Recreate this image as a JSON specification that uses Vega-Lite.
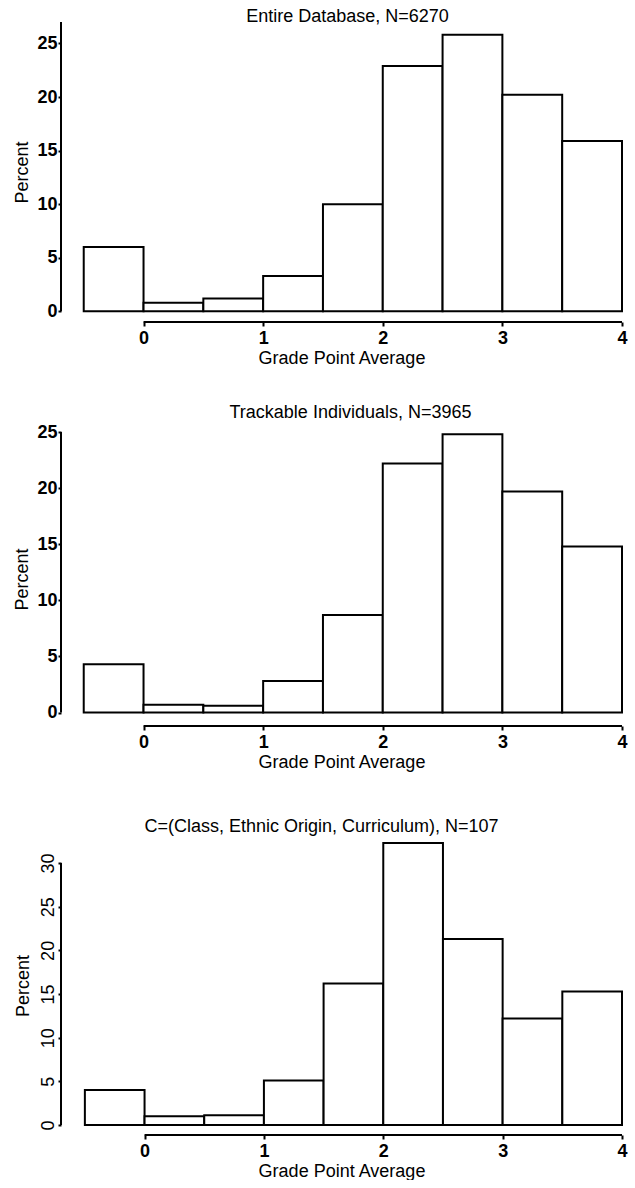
{
  "$schema": "https://vega.github.io/schema/vega-lite/v6.json",
  "autosize": {"type": "pad"},
  "padding": {"left": 13, "top": 8, "right": 0, "bottom": 0},
  "background": "white",
  "bounds": "flush",
  "spacing": 110,
  "config": {
    "view": {"stroke": null},
    "font": "Liberation Sans",
    "axis": {
      "domain": false, "grid": false, "ticks": true, "tickColor": "black", "tickWidth": 2, "tickSize": 4,
      "labelColor": "black", "labelFontSize": 18, "labelFont": "Liberation Sans", "format": "d",
      "titleFontSize": 18, "titleFontWeight": "normal", "titleColor": "black", "titleFont": "Liberation Sans",
      "labelOverlap": false
    },
    "title": {"fontSize": 18, "fontWeight": "normal", "color": "black", "frame": "group", "font": "Liberation Sans"}
  },
  "datasets": {
    "p1": [
      {"lo": -0.5, "hi": 0, "pct": 6.0}, {"lo": 0, "hi": 0.5, "pct": 0.8}, {"lo": 0.5, "hi": 1, "pct": 1.2},
      {"lo": 1, "hi": 1.5, "pct": 3.3}, {"lo": 1.5, "hi": 2, "pct": 10.0}, {"lo": 2, "hi": 2.5, "pct": 22.9},
      {"lo": 2.5, "hi": 3, "pct": 25.8}, {"lo": 3, "hi": 3.5, "pct": 20.2}, {"lo": 3.5, "hi": 4, "pct": 15.9}
    ],
    "p2": [
      {"lo": -0.5, "hi": 0, "pct": 4.3}, {"lo": 0, "hi": 0.5, "pct": 0.7}, {"lo": 0.5, "hi": 1, "pct": 0.6},
      {"lo": 1, "hi": 1.5, "pct": 2.8}, {"lo": 1.5, "hi": 2, "pct": 8.7}, {"lo": 2, "hi": 2.5, "pct": 22.2},
      {"lo": 2.5, "hi": 3, "pct": 24.8}, {"lo": 3, "hi": 3.5, "pct": 19.7}, {"lo": 3.5, "hi": 4, "pct": 14.8}
    ],
    "p3": [
      {"lo": -0.5, "hi": 0, "pct": 4.0}, {"lo": 0, "hi": 0.5, "pct": 1.0}, {"lo": 0.5, "hi": 1, "pct": 1.1},
      {"lo": 1, "hi": 1.5, "pct": 5.1}, {"lo": 1.5, "hi": 2, "pct": 16.2}, {"lo": 2, "hi": 2.5, "pct": 32.3},
      {"lo": 2.5, "hi": 3, "pct": 21.3}, {"lo": 3, "hi": 3.5, "pct": 12.2}, {"lo": 3.5, "hi": 4, "pct": 15.3}
    ],
    "one": [{}]
  },
  "vconcat": [
    {
      "width": 561, "height": 300,
      "title": {"text": "Entire Database, N=6270", "offset": -5, "dx": 6},
      "layer": [
        {
          "data": {"name": "p1"},
          "mark": {"type": "rect", "fill": "white", "stroke": "black", "strokeWidth": 2},
          "encoding": {
            "x": {"field": "lo", "type": "quantitative", "scale": {"domain": [-0.69, 4], "nice": false, "zero": false},
                  "axis": {"values": [0, 1, 2, 3, 4], "title": "Grade Point Average", "labelPadding": 3, "titlePadding": 2, "labelFlush": false, "labelFontWeight": "bold"}},
            "x2": {"field": "hi"},
            "y": {"field": "pct", "type": "quantitative", "scale": {"domain": [-1, 27], "nice": false, "zero": false},
                  "axis": {"values": [0, 5, 10, 15, 20, 25], "title": "Percent", "labelPadding": 1, "tickSize": 3, "titlePadding": 5, "labelFontWeight": "bold"}},
            "y2": {"datum": 0}
          }
        },
        {
          "data": {"name": "one"},
          "mark": {"type": "rule", "stroke": "black", "strokeWidth": 2},
          "encoding": {"x": {"datum": 0}, "x2": {"datum": 4}, "y": {"datum": -1}}
        },
        {
          "data": {"name": "one"},
          "mark": {"type": "rule", "stroke": "black", "strokeWidth": 2},
          "encoding": {"x": {"datum": -0.69}, "y": {"datum": 0}, "y2": {"datum": 27}}
        }
      ]
    },
    {
      "width": 561, "height": 294,
      "title": {"text": "Trackable Individuals, N=3965", "offset": 1, "dx": 9},
      "layer": [
        {
          "data": {"name": "p2"},
          "mark": {"type": "rect", "fill": "white", "stroke": "black", "strokeWidth": 2},
          "encoding": {
            "x": {"field": "lo", "type": "quantitative", "scale": {"domain": [-0.69, 4], "nice": false, "zero": false},
                  "axis": {"values": [0, 1, 2, 3, 4], "title": "Grade Point Average", "labelPadding": 3, "titlePadding": 2, "labelFlush": false, "labelFontWeight": "bold"}},
            "x2": {"field": "hi"},
            "y": {"field": "pct", "type": "quantitative", "scale": {"domain": [-1.2, 25], "nice": false, "zero": false},
                  "axis": {"values": [0, 5, 10, 15, 20, 25], "title": "Percent", "labelPadding": 1, "tickSize": 3, "titlePadding": 5, "labelFontWeight": "bold"}},
            "y2": {"datum": 0}
          }
        },
        {
          "data": {"name": "one"},
          "mark": {"type": "rule", "stroke": "black", "strokeWidth": 2},
          "encoding": {"x": {"datum": 0}, "x2": {"datum": 4}, "y": {"datum": -1.2}}
        },
        {
          "data": {"name": "one"},
          "mark": {"type": "rule", "stroke": "black", "strokeWidth": 2},
          "encoding": {"x": {"datum": -0.69}, "y": {"datum": 0}, "y2": {"datum": 25}}
        }
      ]
    },
    {
      "width": 561, "height": 299,
      "title": {"text": "C=(Class, Ethnic Origin, Curriculum), N=107", "offset": 0, "dx": -20},
      "layer": [
        {
          "data": {"name": "p3"},
          "mark": {"type": "rect", "fill": "white", "stroke": "black", "strokeWidth": 2},
          "encoding": {
            "x": {"field": "lo", "type": "quantitative", "scale": {"domain": [-0.7, 4], "nice": false, "zero": false},
                  "axis": {"values": [0, 1, 2, 3, 4], "title": "Grade Point Average", "labelPadding": 3, "titlePadding": 2, "labelFlush": false, "labelFontWeight": "bold"}},
            "x2": {"field": "hi"},
            "y": {"field": "pct", "type": "quantitative", "scale": {"domain": [-1.15, 33.1], "nice": false, "zero": false},
                  "axis": {"values": [0, 5, 10, 15, 20, 25, 30], "title": "Percent", "labelAngle": -90, "labelPadding": 1, "tickSize": 3, "titlePadding": 7}},
            "y2": {"datum": 0}
          }
        },
        {
          "data": {"name": "one"},
          "mark": {"type": "rule", "stroke": "black", "strokeWidth": 2},
          "encoding": {"x": {"datum": 0}, "x2": {"datum": 4}, "y": {"datum": -1.15}}
        },
        {
          "data": {"name": "one"},
          "mark": {"type": "rule", "stroke": "black", "strokeWidth": 2},
          "encoding": {"x": {"datum": -0.7}, "y": {"datum": 0}, "y2": {"datum": 30}}
        }
      ]
    }
  ]
}
